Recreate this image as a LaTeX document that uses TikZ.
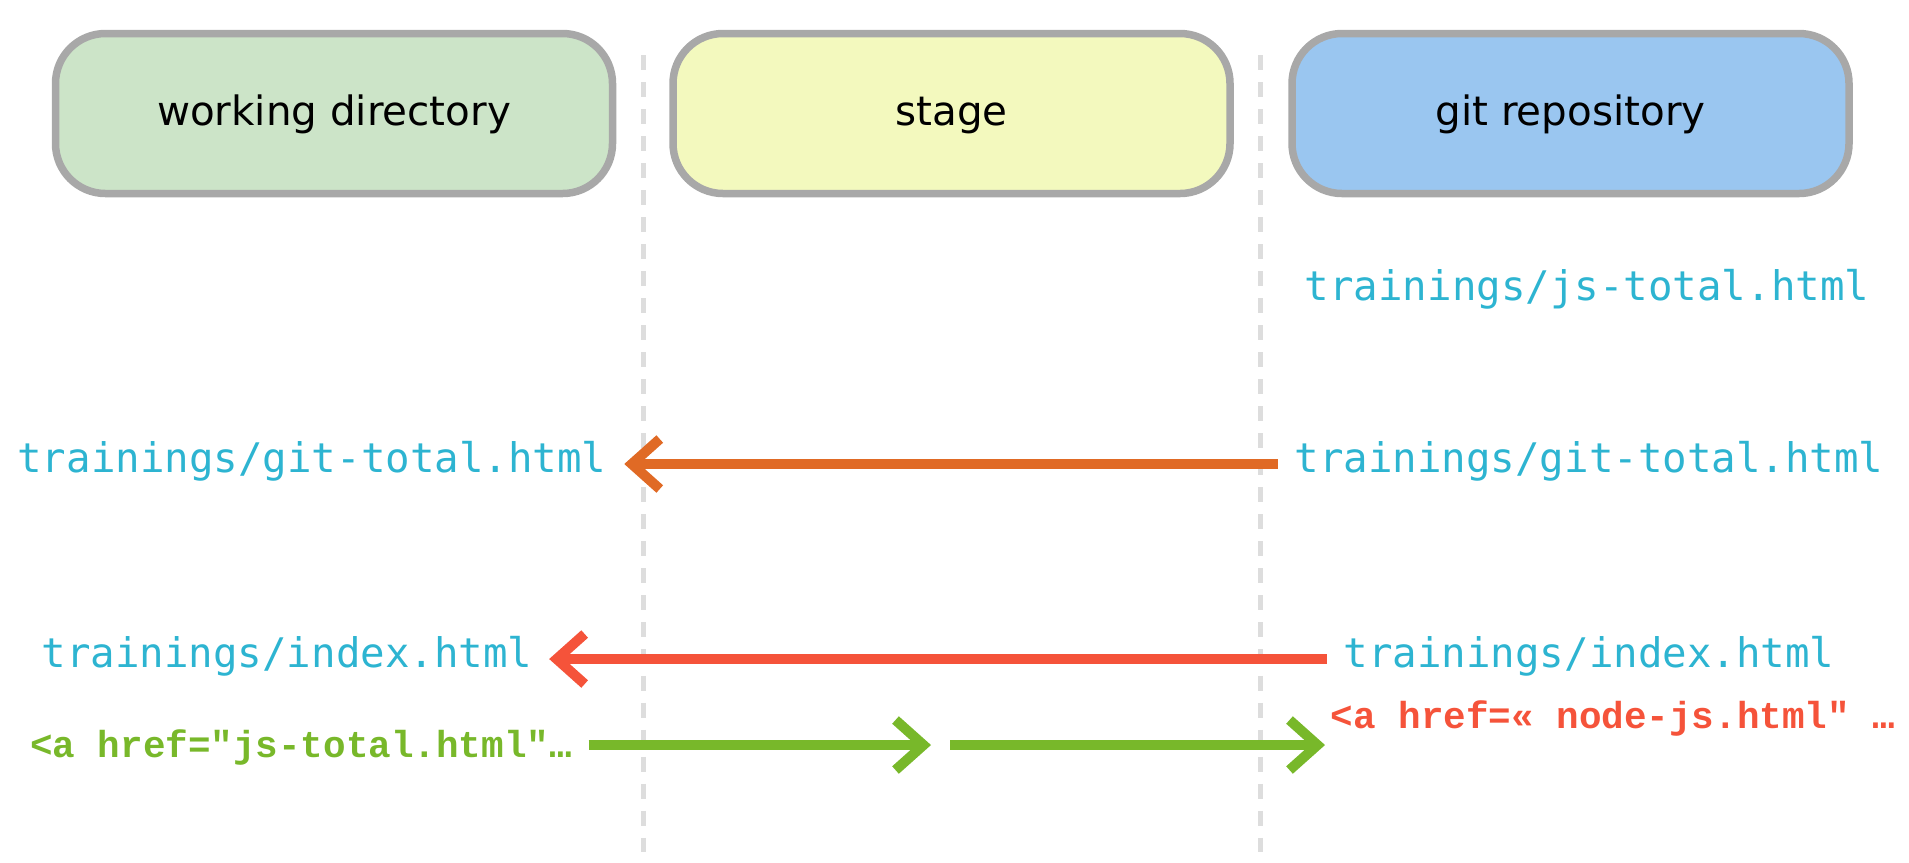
\documentclass[tikz,border=0pt]{standalone}
\usepackage{fontspec}
\setmainfont{DejaVu Sans}
\newfontfamily\pathfont{DejaVu Sans Mono}
\newfontfamily\codefont{Liberation Mono}
\usetikzlibrary{arrows.meta}

\definecolor{wdfill}{HTML}{CCE4C8}
\definecolor{stagefill}{HTML}{F3F9BE}
\definecolor{repofill}{HTML}{9AC6F0}
\definecolor{boxline}{HTML}{A8A8A8}
\definecolor{pathcol}{HTML}{2DB4D1}
\definecolor{checkoutcol}{HTML}{E06A25}
\definecolor{resetcol}{HTML}{F5533A}
\definecolor{addcol}{HTML}{78B82A}
\definecolor{sepcol}{HTML}{DDDDDD}

\begin{document}
\begin{tikzpicture}[area/.style={draw=boxline, line width=0.075cm, rounded corners=0.5cm, minimum width=5.57cm, minimum height=1.6cm, text height=1.7ex, text depth=0.5ex, font=\fontsize{11.5}{13}\selectfont},
  file/.style={text=pathcol, inner sep=0pt, text height=0.75em, text depth=0.25em, font=\pathfont\fontsize{11.6}{14}\selectfont},
  code/.style={inner sep=0pt, text height=0.7em, text depth=0.2em, font=\codefont\bfseries\fontsize{10.7}{13}\selectfont},
  brush/.style={line width=0.1cm, -{Straight Barb[length=0.28cm,width=0.5cm]}},
  sep/.style={sepcol, line width=0.05cm, dash pattern=on 0.15cm off 0.12cm}]
\useasboundingbox (0,0) rectangle (19.09,-8.62);

\draw[sep] (6.43,-0.55) -- (6.43,-8.52);
\draw[sep] (12.6,-0.55) -- (12.6,-8.52);

\node[area, fill=wdfill] (wd) at (3.34,-1.135) {working directory};
\node[area, fill=stagefill] (stage) at (9.515,-1.135) {stage};
\node[area, fill=repofill] (repo) at (15.705,-1.135) {git repository};

\node[file] (jsrepo) at (15.87,-2.92) {trainings/js-total.html};
\node[file] (gitrepo) at (15.89,-4.64) {trainings/git-total.html};
\node[file] (gitwd) at (3.12,-4.64) {trainings/git-total.html};
\node[file] (idxrepo) at (15.89,-6.59) {trainings/index.html};
\node[file] (idxwd) at (2.87,-6.59) {trainings/index.html};
\node[code, text=addcol] (linkwd) at (3.01,-7.49) {<a href="js-total.html"…};
\node[code, text=resetcol] (linkrepo) at (16.13,-7.2) {<a href=« node-js.html" …};

\coordinate (addtip) at (9.31,-7.45);
\coordinate (committail) at (9.5,-7.45);
\coordinate (committip) at (13.25,-7.45);

\draw[brush, checkoutcol, shorten <=0.16cm, shorten >=0.17cm] (gitrepo) -- (gitwd);
\draw[brush, resetcol, shorten <=0.16cm, shorten >=0.16cm] (idxrepo) -- (idxwd);
\draw[brush, addcol, shorten <=0.16cm] (linkwd.east |- addtip) -- (addtip);
\draw[brush, addcol] (committail) -- (committip);
\end{tikzpicture}
\end{document}
